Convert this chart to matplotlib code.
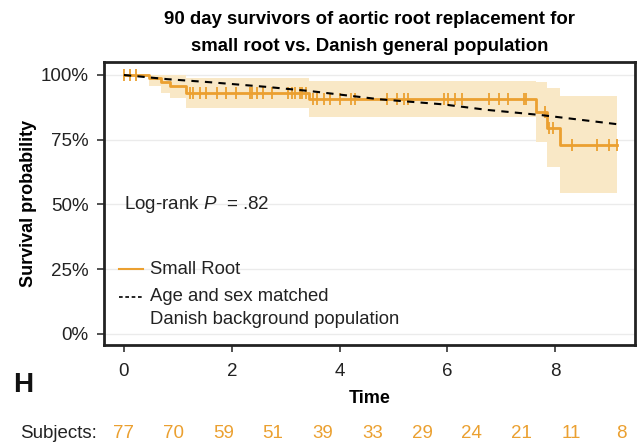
import numpy as np
import matplotlib
matplotlib.use("Agg")
import matplotlib.pyplot as plt

plt.rcParams["font.family"] = ["Liberation Sans", "DejaVu Sans"]
plt.rcParams["mathtext.fontset"] = "custom"
plt.rcParams["mathtext.it"] = "Liberation Sans:italic"
plt.rcParams["mathtext.rm"] = "Liberation Sans"

ORANGE = "#EBA030"
BAND = "#F9E8C6"

# Kaplan-Meier steps (time in years, survival in %)
km_times = [0, 0.47, 0.69, 0.85, 1.15, 3.43, 7.64, 7.84, 8.08]
km_surv = [100, 98.7, 97.3, 95.8, 92.9, 90.7, 85.6, 79.7, 73.1]
km_lower = [100, 95.8, 93.2, 91.0, 87.2, 83.6, 74.2, 64.6, 54.3]
km_upper = [100, 100, 100, 100, 99.0, 97.7, 97.3, 95.1, 91.9]
km_end = 9.15

censor_times = [
    0.0, 0.11, 0.22,
    1.23, 1.29, 1.42, 1.53, 1.72, 1.90, 2.07, 2.33, 2.37, 2.46, 2.58, 2.74,
    3.05, 3.12, 3.18, 3.26, 3.31, 3.38,
    3.51, 3.59, 3.71, 3.83, 4.00, 4.22, 4.29, 4.88, 5.06, 5.19, 5.27,
    5.93, 6.02, 6.14, 6.27, 6.78, 6.96, 7.13, 7.42, 7.46,
    7.81, 7.89, 7.95,
    8.32, 8.78, 9.00, 9.15,
]

# expected survival of matched background population
pop_times = [0, 0.8, 1.6, 2.65, 3.45, 4.75, 5.9, 6.75, 7.75, 9.15]
pop_surv = [100, 98.4, 97.2, 95.4, 93.8, 90.6, 88.7, 86.5, 84.5, 81.0]

subjects = [77, 70, 59, 51, 39, 33, 29, 24, 21, 11, 8]

yticks = [0, 25, 50, 75, 100]
ytick_labels = ["0%", "25%", "50%", "75%", "100%"]
xticks = [0, 2, 4, 6, 8]


def km_at(t):
    idx = np.searchsorted(km_times, t, side="right") - 1
    return km_surv[idx]


fig = plt.figure(figsize=(6.44, 4.46), dpi=100)
ax = fig.add_axes([104 / 644, 1 - 345 / 446, 531 / 644, 282.7 / 446])

st = km_times + [km_end]
ax.fill_between(st, km_lower + [km_lower[-1]], km_upper + [km_upper[-1]],
                step="post", color=BAND, linewidth=0, zorder=1)
for y in yticks:
    ax.axhline(y, color="#EBEBEB", lw=1, zorder=0.5)
ax.step(st, km_surv + [km_surv[-1]], where="post", color=ORANGE, lw=2, zorder=3)
ax.plot(censor_times, [km_at(t) for t in censor_times], ls="none",
        marker="|", ms=8, mew=1.3, color=ORANGE, zorder=3)
ax.plot(pop_times, pop_surv, color="black", ls=(0, (3.5, 3)), lw=1.5, zorder=4)

ax.set_xlim(-0.37, 9.48)
ax.set_ylim(-4.25, 104.9)
ax.set_xticks(xticks)
ax.set_yticks(yticks)
ax.set_yticklabels(ytick_labels)
ax.tick_params(axis="both", labelsize=13.5, length=5, width=1.2, color="#333333",
               labelcolor="#222222")
ax.tick_params(axis="x", pad=8)
ax.tick_params(axis="y", pad=6)
for s in ax.spines.values():
    s.set_linewidth(2)
    s.set_color("#222222")

ax.set_xlabel("Time", fontsize=13, fontweight="bold", labelpad=7)
ax.set_ylabel("Survival probability", fontsize=13, fontweight="bold", labelpad=3)
ax.set_title("90 day survivors of aortic root replacement for\n"
             "small root vs. Danish general population",
             fontsize=13.4, fontweight="bold", linespacing=1.8, pad=8)

ax.text(0, 50, "Log-rank $\\mathit{P}$  = .82", fontsize=13.5, va="center",
        ha="left", color="#222222")

# legend drawn by hand so the dashed key sits on the first line
ax.plot([0.0282, 0.0734], [0.268, 0.268], color=ORANGE, lw=1.5,
        transform=ax.transAxes)
ax.plot([0.0282, 0.0734], [0.171, 0.171], color="black", lw=1.2,
        ls=(0, (2.2, 1.6)), transform=ax.transAxes)
ax.text(0.0866, 0.268, "Small Root", transform=ax.transAxes, fontsize=13.3,
        va="center", color="#222222")
ax.text(0.0866, 0.171, "Age and sex matched", transform=ax.transAxes,
        fontsize=13.3, va="center", color="#222222")
ax.text(0.0866, 0.091, "Danish background population", transform=ax.transAxes,
        fontsize=13.3, va="center", color="#222222")

fig.text(23 / 644, 1 - 385 / 446, "H", fontsize=20, fontweight="bold",
         ha="center", va="center", color="#111111")

# numbers at risk
sub_y = 1 - 433 / 446
fig.text(97 / 644, sub_y, "Subjects:", fontsize=13.5, ha="right", va="center",
         color="#222222")
for i, n in enumerate(subjects):
    px = 124 + 49.7 * i
    fig.text(px / 644, sub_y, str(n), fontsize=13.5, ha="center", va="center",
             color=ORANGE)

fig.savefig("out.png", dpi=100)
